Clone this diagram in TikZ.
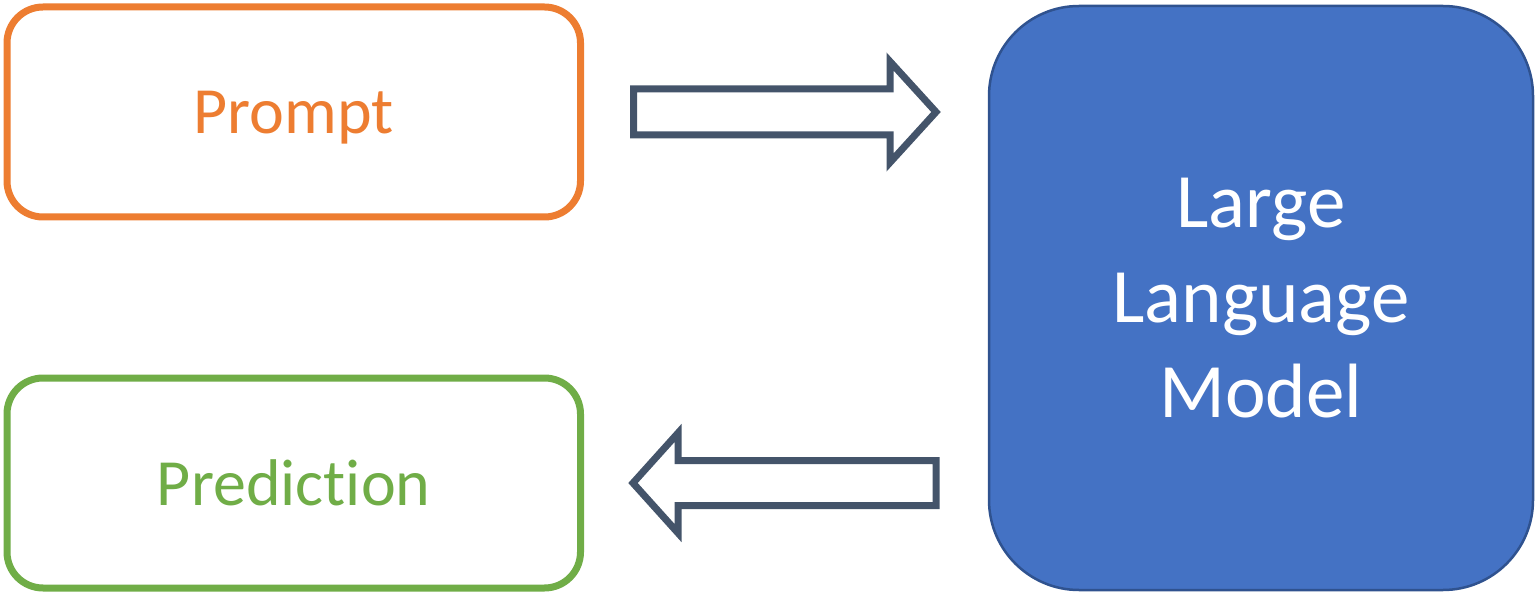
\documentclass[tikz,border=0pt]{standalone}
\usepackage{fontspec}
\setmainfont[Ligatures=NoCommon]{Carlito}
\usetikzlibrary{positioning}

\begin{document}
\begin{tikzpicture}[x=1pt,y=1pt,
  box/.style={draw,line width=7pt,rounded corners=36pt,fill=white,
    minimum width=573.5pt,minimum height=210pt,inner sep=0pt,outer sep=0pt,
    text depth=0pt,font=\fontsize{66}{79}\selectfont},
  blockarrow/.style={draw=arrowslate,line width=7pt,fill=white}]
% Office palette colours
\definecolor{promptorange}{HTML}{ED7D31}
\definecolor{predgreen}{HTML}{70AD47}
\definecolor{llmblue}{HTML}{4472C4}
\definecolor{llmedge}{HTML}{2F528F}
\definecolor{arrowslate}{HTML}{44546A}
\useasboundingbox (0,0) rectangle (1536,595);
% Input and output boxes on the left
\node[box,draw=promptorange,text=promptorange] (prompt) at (293.75,483) {Prompt};
\node[box,draw=predgreen,text=predgreen,below=161pt of prompt] (prediction) {Prediction};
% The model on the right
\node[draw=llmedge,fill=llmblue,line width=2.5pt,rounded corners=90pt,
  minimum width=544pt,minimum height=584pt,inner sep=0pt,outer sep=0pt,
  align=center,text=white,font=\fontsize{77}{95}\selectfont]
  (llm) at (1261,297) {Large\\Language\\Model};
% Hollow arrow going into the model
\coordinate (intail) at ([xshift=53pt]prompt.east);
\draw[blockarrow] ([yshift=23pt]intail) -- ++(256.5,0) -- ++(0,27.5)
  -- ++(46,-50.5) -- ++(-46,-50.5) -- ++(0,27.5) -- ++(-256.5,0) -- cycle;
% Hollow arrow coming back out of it
\coordinate (outtail) at (llm.west |- prediction.east);
\draw[blockarrow] ([xshift=-53pt,yshift=22.5pt]outtail) -- ++(-258,0) -- ++(0,27.5)
  -- ++(-45,-50) -- ++(45,-50) -- ++(0,27.5) -- ++(258,0) -- cycle;
\end{tikzpicture}
\end{document}
